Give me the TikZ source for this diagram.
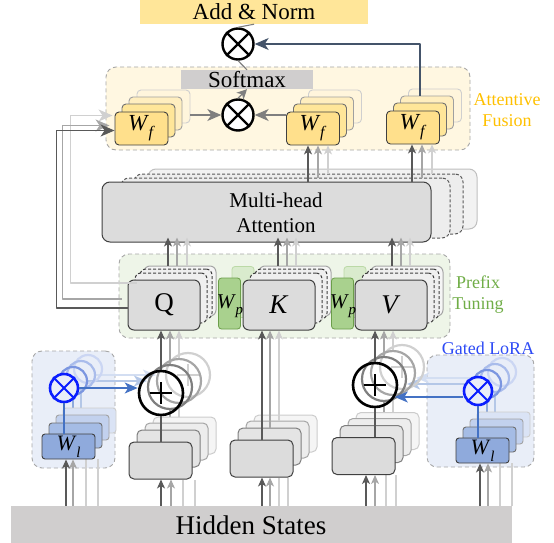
\documentclass[tikz,border=0pt]{standalone}
\usepackage{fontspec}
\setmainfont{Liberation Serif}
\usetikzlibrary{arrows.meta,calc}
\pgfdeclarelayer{back}
\pgfdeclarelayer{mid}
\pgfsetlayers{back,mid,main}
\newcommand\myfs[2]{\fontsize{#1}{#2}\selectfont}
\newcommand\Wsym[2]{\textit{W}\kern-0.3pt\raisebox{-0.3em}{\myfs{#2}{#2}\textit{#1}}}
\definecolor{anfill}{HTML}{FFE699}
\definecolor{affill}{HTML}{FFF7E1}
\definecolor{contdash}{HTML}{A6A6A6}
\definecolor{ptfill}{HTML}{EEF5E8}
\definecolor{lrfill}{HTML}{E9EEF8}
\definecolor{hsfill}{HTML}{D0CECE}
\definecolor{smfill}{HTML}{D0CECE}
\definecolor{gfront}{HTML}{DCDCDC}
\definecolor{gdark}{HTML}{404040}
\definecolor{yf1}{HTML}{FFE08C}\definecolor{yd1}{HTML}{404040}
\definecolor{yf2}{HTML}{FFE699}\definecolor{yd2}{HTML}{707070}
\definecolor{yf3}{HTML}{FFEEBF}\definecolor{yd3}{HTML}{A0A0A0}
\definecolor{yf4}{HTML}{FFF5DC}\definecolor{yd4}{HTML}{CFCFCF}
\definecolor{mhaf}{HTML}{EDEDED}\definecolor{mhad}{HTML}{595959}
\definecolor{mhaff}{HTML}{F2F2F2}\definecolor{mhadd}{HTML}{BFBFBF}
\definecolor{qf2}{HTML}{EFEFEF}\definecolor{qd2}{HTML}{404040}
\definecolor{qf3}{HTML}{F5F5F5}\definecolor{qd3}{HTML}{A6A6A6}
\definecolor{wpfill}{HTML}{A9D18E}\definecolor{wpdraw}{HTML}{6B9E4A}
\definecolor{wpback}{HTML}{D9EBCD}\definecolor{wpbackd}{HTML}{BBD9A6}
\definecolor{if1}{HTML}{E4E4E4}\definecolor{id1}{HTML}{7F7F7F}
\definecolor{if2}{HTML}{EDEDED}\definecolor{id2}{HTML}{A6A6A6}
\definecolor{if3}{HTML}{F5F5F5}\definecolor{id3}{HTML}{CCCCCC}
\definecolor{wlfill}{HTML}{8FAADC}
\definecolor{wf1}{HTML}{A5BCE5}\definecolor{wd1}{HTML}{6F6F6F}
\definecolor{wf2}{HTML}{C2D1EE}\definecolor{wd2}{HTML}{A3A3A3}
\definecolor{wf3}{HTML}{DAE3F5}\definecolor{wd3}{HTML}{CDCDCD}
\definecolor{bcol}{HTML}{0A1EFF}
\definecolor{bc1}{HTML}{7B96E0}\definecolor{bc2}{HTML}{A9BCEB}\definecolor{bc3}{HTML}{CBD6F3}
\definecolor{bline}{HTML}{4472C4}
\definecolor{ba1}{HTML}{8FAADC}\definecolor{ba2}{HTML}{B4C7E7}\definecolor{ba3}{HTML}{D3DEF2}
\definecolor{pc1}{HTML}{7F7F7F}\definecolor{pc2}{HTML}{A6A6A6}\definecolor{pc3}{HTML}{D0D0D0}
\definecolor{arrdark}{HTML}{595959}
\definecolor{arrgray}{HTML}{7F7F7F}
\definecolor{arrmid}{HTML}{A6A6A6}
\definecolor{arrlight}{HTML}{D0D0D0}
\definecolor{slate}{HTML}{44546A}
\definecolor{afyellow}{HTML}{FFC000}
\definecolor{ptgreen}{HTML}{70AD47}
\definecolor{lrtext}{HTML}{2E4BF5}
\tikzset{
  cont/.style={draw=contdash, dash pattern=on 4pt off 3pt, line width=0.9pt, rounded corners=10pt, inner sep=0pt},
  wfbox/.style={draw, line width=0.9pt, rounded corners=4pt, minimum width=53pt, minimum height=33pt, inner sep=0pt, font=\myfs{23}{23}},
  mhabox/.style={draw, line width=1pt, rounded corners=8pt, minimum width=329pt, minimum height=60pt, inner sep=0pt},
  qkvbox/.style={draw, line width=1pt, rounded corners=6pt, minimum width=72pt, minimum height=50pt, inner sep=0pt, font=\myfs{27}{27}},
  wpbox/.style={draw, line width=0.8pt, rounded corners=3pt, minimum width=22pt, minimum height=51pt, inner sep=0pt},
  inbox/.style={draw, line width=1pt, rounded corners=5pt, minimum width=63pt, minimum height=37pt, inner sep=0pt},
  wlbox/.style={draw, line width=0.9pt, rounded corners=3pt, minimum width=53pt, minimum height=25pt, inner sep=0pt, font=\myfs{22}{22}},
  otimesnode/.style={circle, draw, line width=2.4pt, inner sep=0pt, minimum size=31pt, fill=white},
  ring/.style={circle, draw, line width=2.2pt, inner sep=0pt},
  darr/.style={draw=arrdark, line width=1.2pt, -{Stealth[length=9pt,width=8pt,inset=2.5pt]}},
  larr/.style={draw=#1, line width=1.1pt, -{Stealth[length=9pt,width=8pt,inset=2.5pt]}},
  bigarr/.style={draw=#1, line width=1.2pt, -{Stealth[length=14pt,width=12pt,inset=4pt]}},
  barr/.style={draw=#1, line width=1.4pt, -{Stealth[length=13pt,width=11pt,inset=3.5pt]}},
  plain/.style={draw=#1, line width=1.1pt},
}
\newcommand\qkvstack[3]{%
  \node[qkvbox, fill=qf3, draw=qd3] (#1l3) at (#2+16,#3-14) {};
  \node[qkvbox, fill=qf2, draw=qd2, dash pattern=on 3pt off 2pt] (#1l2) at (#2+12,#3-11) {};
  \node[qkvbox, fill=qf2, draw=qd2, dash pattern=on 3pt off 2pt] (#1l1) at (#2+7,#3-7) {};
}
\newcommand\inputstack[3]{%
  \node[inbox, fill=if3, draw=id3] (#1l3) at (#2+24,#3-25) {};
  \node[inbox, fill=if2, draw=id2] (#1l2) at (#2+16,#3-19) {};
  \node[inbox, fill=if1, draw=id1] (#1l1) at (#2+8,#3-12) {};
  \node[inbox, fill=gfront, draw=gdark] (#1) at (#2,#3) {};
}
\newcommand\wlstack[3]{%
  \node[wlbox, fill=wf3, draw=wd3] (#1l3) at (#2+21,#3-26) {};
  \node[wlbox, fill=wf2, draw=wd2] (#1l2) at (#2+14,#3-19) {};
  \node[wlbox, fill=wf1, draw=wd1] (#1l1) at (#2+7,#3-11) {};
  \node[wlbox, fill=wlfill, draw=gdark] (#1) at (#2,#3) {\Wsym{l}{15}};
}
\newcommand\bluestack[3]{%
  \node[ring, draw=bc3, minimum size=28pt] (#1l3) at (#2+24,#3-19) {};
  \node[ring, draw=bc2, minimum size=28pt] (#1l2) at (#2+17,#3-13) {};
  \node[ring, draw=bc1, minimum size=28pt] (#1l1) at (#2+9,#3-7) {};
  \node[ring, draw=bcol, line width=2.6pt, minimum size=28pt, fill=lrfill] (#1) at (#2,#3) {};
  \draw[draw=bcol, line width=2pt] (#1.north east) -- (#1.south west) (#1.north west) -- (#1.south east);
}
\newcommand\plusstack[3]{%
  \node[ring, draw=pc3, minimum size=44pt] (#1l3) at (#2+27,#3-18) {};
  \draw[draw=pc3, line width=2.6pt] ($(#1l3)+(-11,0)$) -- ($(#1l3)+(11,0)$) ($(#1l3)+(0,-11)$) -- ($(#1l3)+(0,11)$);
  \node[ring, draw=pc2, minimum size=44pt] (#1l2) at (#2+18,#3-12) {};
  \node[ring, draw=pc1, minimum size=44pt] (#1l1) at (#2+9,#3-6) {};
  \node[ring, draw=black, line width=2.6pt, minimum size=44pt] (#1) at (#2,#3) {};
  \draw[line width=2.8pt] ($(#1)+(-11,0)$) -- ($(#1)+(11,0)$) ($(#1)+(0,-11)$) -- ($(#1)+(0,11)$);
}
\newcommand\feeds[5]{%
  \draw[darr] ($(#1.south |- hs.north)+(#2,0)$) -- ($(#1.south)+(#2,0)$);
  \begin{pgfonlayer}{mid}
  \draw[larr=arrmid] ($(#1.south |- hs.north)+(#3,0)$) -- ($(#1.south)+(#3,0)$);
  \draw[plain=arrlight] ($(#1.south |- hs.north)+(#4,0)$) -- ($(#1.south)+(#4,0)$);
  \draw[plain=arrlight] ($(#1.south |- hs.north)+(#5,0)$) -- ($(#1.south)+(#5,0)$);
  \end{pgfonlayer}
}
\begin{document}
\begin{tikzpicture}[x=1pt,y=-1pt,line join=round]
\useasboundingbox (0,0) rectangle (554,543);

\begin{pgfonlayer}{back}
\node[cont, fill=affill, minimum width=364pt, minimum height=83pt] (afbox) at (288,108.5) {};
\node[cont, fill=ptfill, minimum width=331pt, minimum height=84pt] (ptbox) at (284.5,296) {};
\node[cont, fill=lrfill, minimum width=83pt, minimum height=117pt] (lra) at (73.5,409.5) {};
\node[cont, fill=lrfill, minimum width=107pt, minimum height=112pt] (lrb) at (480.5,411) {};
\end{pgfonlayer}

% labels
\node[font=\myfs{18}{21}, text=afyellow, align=center] (aflabel) at (507,110) {Attentive\\Fusion};
\node[font=\myfs{18}{21}, text=ptgreen, align=center] (ptlabel) at (478,295) {Prefix\\Tuning};
\node[font=\myfs{18}{18}, text=lrtext, inner sep=1pt] (lrlabel) at (488,348) {Gated LoRA};

% hidden states
\node[fill=hsfill, minimum width=501pt, minimum height=37pt, inner sep=0pt] (hs) at (261.5,524.5) {};
\node[font=\myfs{27}{27}, inner sep=0pt] (hstext) at (251,525) {Hidden States};

% add & norm, softmax, products
\node[fill=anfill, minimum width=228pt, minimum height=24pt, inner sep=0pt, font=\myfs{23}{23}] (addnorm) at (254,12) {Add \& Norm};
\node[fill=smfill, minimum width=132pt, minimum height=19pt, inner sep=0pt, font=\myfs{23}{23}] (softmax) at (247,79.5) {Softmax};
\node[otimesnode] (otop) at (238,44) {};
\draw[line width=2.4pt] (otop.north east) -- (otop.south west) (otop.north west) -- (otop.south east);
\node[otimesnode] (omid) at (238,115) {};
\draw[line width=2.4pt] (omid.north east) -- (omid.south west) (omid.north west) -- (omid.south east);
\draw[plain=arrgray] (otop.north) -- (addnorm.south);
\draw[plain=arrgray] (otop.south) -- (softmax.north);
\draw[draw=arrgray, line width=1.2pt, -{Stealth[length=10pt,width=10pt,inset=3pt]}] (omid.north) -- (softmax.south);

% W_f stacks
\node[wfbox, fill=yf4, draw=yd4] (wfl3) at (163.5,106.5) {};
\node[wfbox, fill=yf3, draw=yd3] (wfl2) at (155.5,113.5) {};
\node[wfbox, fill=yf2, draw=yd2] (wfl1) at (148.5,120.5) {};
\node[wfbox, fill=yf1, draw=yd1] (wfl) at (141.5,128.5) {\Wsym{f}{16}};
\node[wfbox, fill=yf4, draw=yd4] (wfm3) at (335,106.5) {};
\node[wfbox, fill=yf3, draw=yd3] (wfm2) at (327,113.5) {};
\node[wfbox, fill=yf2, draw=yd2] (wfm1) at (320,120.5) {};
\node[wfbox, fill=yf1, draw=yd1] (wfm) at (313,128.5) {\Wsym{f}{16}};
\node[wfbox, fill=yf4, draw=yd4] (wfr3) at (435,105.5) {};
\node[wfbox, fill=yf3, draw=yd3] (wfr2) at (427,112.5) {};
\node[wfbox, fill=yf2, draw=yd2] (wfr1) at (420,119.5) {};
\node[wfbox, fill=yf1, draw=yd1] (wfr) at (413,127.5) {\Wsym{f}{16}};
\draw[bigarr=arrgray] (wfl3.east |- omid) -- (omid.west);
\draw[bigarr=arrgray] (wfm.west |- omid) -- (omid.east);
\draw[bigarr=slate] ($(wfr2.north)+(-7,0)$) |- (otop.east);

% multi-head attention
\node[mhabox, fill=mhaff, draw=mhadd] (mha3) at (312.5,199) {};
\node[mhabox, fill=mhaf, draw=mhad, dash pattern=on 3pt off 2pt] (mha2) at (298.5,204) {};
\node[mhabox, fill=mhaf, draw=mhad, dash pattern=on 3pt off 2pt] (mha1) at (285.5,208) {};
\node[mhabox, fill=gfront, draw=gdark] (mha) at (266.5,212) {};
\node[font=\myfs{21}{25}, align=center] (mhatext) at (276,213) {Multi-head\\Attention};
\draw[darr] ($(wfm.south |- mha.north)+(-5,0)$) -- ($(wfm.south)+(-5,0)$);
\draw[larr=arrmid] ($(wfm.south |- mha1.north)+(5,0)$) -- ($(wfm.south)+(5,0)$);
\draw[larr=arrlight] ($(wfm.south |- mha2.north)+(15,0)$) -- ($(wfm.south)+(15,0)$);
\draw[darr] ($(wfr.south |- mha.north)+(-1,0)$) -- ($(wfr.south)+(-1,0)$);
\draw[larr=arrmid] ($(wfr.south |- mha1.north)+(9,0)$) -- ($(wfr.south)+(9,0)$);
\draw[larr=arrlight] ($(wfr.south |- mha2.north)+(19,0)$) -- ($(wfr.south)+(19,0)$);

% Q, K, V with prefixes
\qkvstack{q}{164}{305}
\node[qkvbox, fill=gfront, draw=gdark] (q) at (164,305) {Q};
\node[wpbox, fill=wpback, draw=wpbackd] (wpab) at (243,292) {};
\node[wpbox, fill=wpfill, draw=wpdraw] (wpa) at (229.5,303.5) {};
\qkvstack{k}{279}{305}
\node[qkvbox, fill=gfront, draw=gdark] (k) at (279,305) {\textit{K}};
\node[wpbox, fill=wpback, draw=wpbackd] (wpbb) at (355,292) {};
\node[wpbox, fill=wpfill, draw=wpdraw] (wpb) at (342.5,303.5) {};
\qkvstack{v}{391}{305}
\node[qkvbox, fill=gfront, draw=gdark] (v) at (391,305) {\textit{V}};
\node[font=\myfs{21}{21}, inner sep=0pt] (wpat) at (230,306) {\Wsym{p}{15}};
\node[font=\myfs{21}{21}, inner sep=0pt] (wpbt) at (343,306) {\Wsym{p}{15}};

\draw[darr] ($(q.north |- ql3.north)+(4,0)$) -- ($(q.north |- mha.south)+(4,-5)$);
\draw[larr=arrmid] ($(q.north |- ql3.north)+(13,0)$) -- ($(q.north |- mha.south)+(13,-5)$);
\draw[larr=arrlight] ($(q.north |- ql3.north)+(23,0)$) -- ($(q.north |- mha.south)+(23,-5)$);
\draw[darr] ($(k.north |- kl3.north)+(-1,0)$) -- ($(k.north |- mha.south)+(-1,-5)$);
\draw[larr=arrmid] ($(k.north |- kl3.north)+(8,0)$) -- ($(k.north |- mha.south)+(8,-5)$);
\draw[larr=arrlight] ($(k.north |- kl3.north)+(17,0)$) -- ($(k.north |- mha.south)+(17,-5)$);
\draw[darr] ($(v.north |- vl3.north)+(1,0)$) -- ($(v.north |- mha.south)+(1,-5)$);
\draw[larr=arrmid] ($(v.north |- vl3.north)+(10,0)$) -- ($(v.north |- mha.south)+(10,-5)$);
\draw[larr=arrlight] ($(v.north |- vl3.north)+(19,0)$) -- ($(v.north |- mha.south)+(19,-5)$);

% residual lines from Q to the left W_f
\draw[bigarr=arrlight] ($(q.west)+(9,-22)$) -- ($(q.west)+(-57,-22)$) |- ($(wfl.west)+(-2,-13)$);
\draw[bigarr=arrmid] ($(q.west)+(-6,-6)$) -- ($(q.west)+(-65,-6)$) |- ($(wfl.west)+(-5,-3)$);
\draw[bigarr=arrdark] ($(q.west)+(0,3)$) -- ($(q.west)+(-71,3)$) |- ($(wfl.west)+(0,2)$);

% bottom: inputs, LoRA and sums
\inputstack{ia}{160.5}{460.5}
\inputstack{ik}{261.5}{458.5}
\inputstack{ib}{363.5}{456}
\wlstack{wa}{68.5}{446.5}
\wlstack{wb}{482.5}{450.5}
\plusstack{pa}{161}{393}
\plusstack{pb}{375}{385}
\bluestack{ba}{64}{388}
\bluestack{bb}{478}{391}

\begin{pgfonlayer}{mid}
\draw[plain=ba2] (wal2.north -| bal2.south) -- (bal2.south);
\draw[plain=ba1] (wal1.north -| bal1.south) -- (bal1.south);
\draw[plain=ba2] (wbl2.north -| bbl2.south) -- (bbl2.south);
\draw[plain=ba1] (wbl1.north -| bbl1.south) -- (bbl1.south);
\draw[barr=ba3] (bal2.east) -- (bal2.east -| pal2.west);
\draw[barr=ba2] (bal1.east) -- (bal1.east -| pal1.west);
\draw[barr=ba3] (bbl2.west) -- (bbl2.west -| pbl2.east);
\draw[barr=ba2] (bbl1.west) -- (bbl1.west -| pbl1.east);
\draw[plain=arrlight] (ial2.north -| pal2.south) -- (pal2.south);
\draw[plain=arrmid] (ial1.north -| pal1.south) -- (pal1.south);
\draw[plain=arrlight] (ibl2.north -| pbl2.south) -- (pbl2.south);
\draw[plain=arrmid] (ibl1.north -| pbl1.south) -- (pbl1.south);
\end{pgfonlayer}

\draw[plain=bline] (wa.north -| ba.south) -- (ba.south);
\draw[plain=bline] (wb.north -| bb.south) -- (bb.south);
\draw[barr=bline] (ba.east) -- (ba.east -| pa.west);
\draw[barr=bline] ($(bb.west)+(0,6)$) -- ($(pb.east)+(-3.5,12)$);

\draw[plain=arrdark] (ia.north -| pa.south) -- (pa.south);
\draw[darr] (pa.north) -- (pa.north |- q.south);
\draw[larr=arrmid] (pal1.north) -- (pal1.north |- q.south);
\draw[larr=arrlight] (pal2.north) -- (pal2.north |- q.south);
\draw[darr] ($(ik.north)+(0.5,0)$) -- ($(ik.north |- k.south)+(0.5,0)$);
\draw[larr=arrmid] ($(ikl1.north)+(0.5,0)$) -- ($(ikl1.north |- k.south)+(0.5,0)$);
\draw[larr=arrlight] ($(ikl2.north)+(1.5,0)$) -- ($(ikl2.north |- k.south)+(1.5,0)$);
\draw[plain=arrdark] (ib.north -| pb.south) -- (pb.south);
\draw[darr] (pb.north) -- (pb.north |- v.south);
\draw[larr=arrmid] (pbl1.north) -- (pbl1.north |- v.south);
\draw[larr=arrlight] (pbl2.north) -- (pbl2.north |- v.south);

% feeds from the hidden states
\feeds{wa}{-2.5}{4.5}{17.5}{29.5}
\feeds{ia}{0.5}{10.5}{22.5}{34.5}
\feeds{ik}{0.5}{8.5}{17.5}{26.5}
\feeds{ib}{2.5}{11.5}{22.5}{32.5}
\feeds{wb}{-2.5}{5.5}{17.5}{29.5}
\end{tikzpicture}
\end{document}
